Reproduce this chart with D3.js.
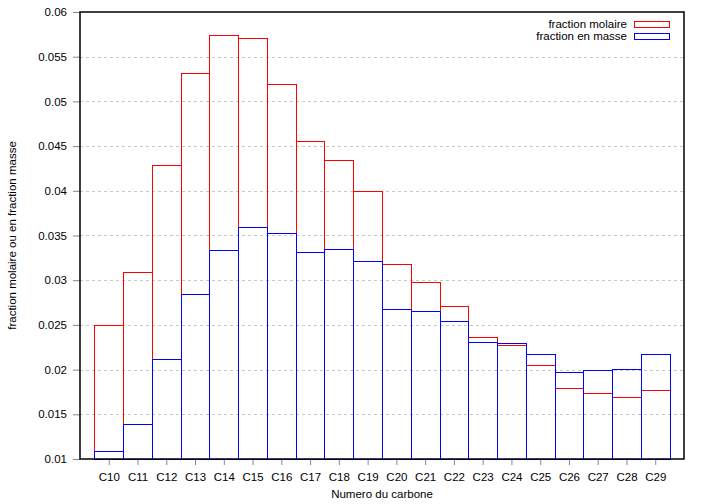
<!DOCTYPE html>
<html><head><meta charset="utf-8">
<script src="https://cdn.jsdelivr.net/npm/d3@7"></script>
<style>body{margin:0;background:#fff}svg{display:block}text{font-family:"Liberation Sans",Arial,sans-serif}</style>
</head><body><svg id="c" width="705" height="504"></svg>
<script>
const categories = ["C10","C11","C12","C13","C14","C15","C16","C17","C18","C19","C20","C21","C22","C23","C24","C25","C26","C27","C28","C29"];
const molaire = [0.0250,0.0309,0.0429,0.0532,0.0574,0.0571,0.0519,0.0456,0.0435,0.0400,0.0318,0.0298,0.0271,0.0236,0.0228,0.0205,0.0179,0.0174,0.0169,0.0177];
const masse = [0.0109,0.0139,0.0212,0.0285,0.0334,0.0360,0.0353,0.0331,0.0335,0.0322,0.0268,0.0266,0.0254,0.0231,0.0230,0.0217,0.0197,0.0200,0.0201,0.0218];
const yTicks = [0.01,0.015,0.02,0.025,0.03,0.035,0.04,0.045,0.05,0.055,0.06];
const seriesNames = ["fraction molaire","fraction en masse"];
const seriesColors = ["#ff0000","#0000ff"];

const svg = d3.select("#c");
const L=80, R=684, T=12, B=459;
const x = d3.scaleLinear().domain([-1,20]).range([L,R]);
const y = d3.scaleLinear().domain([0.01,0.06]).range([B,T]);

// grid
svg.append("g").selectAll("line").data(yTicks.slice(1,-1)).join("line")
  .attr("x1",L).attr("x2",R).attr("y1",d=>Math.round(y(d))+0.5).attr("y2",d=>Math.round(y(d))+0.5)
  .attr("stroke","#c8c8c8").attr("stroke-width",1).attr("stroke-dasharray","3,3");

// bars
[molaire,masse].forEach((vals,si)=>{
  svg.append("g").selectAll("rect").data(vals).join("rect")
    .attr("x",(d,i)=>Math.round(x(i-0.5))+0.5)
    .attr("width",(d,i)=>Math.round(x(i+0.5))-Math.round(x(i-0.5)))
    .attr("y",d=>Math.round(y(d))+0.5)
    .attr("height",d=>B-Math.round(y(d)))
    .attr("fill","none").attr("stroke",seriesColors[si]).attr("stroke-width",1);
});

// axes
const yAxis = d3.axisLeft(y).tickValues(yTicks).tickFormat(d=>+d.toFixed(3)+"").tickSize(7).tickPadding(6);
const gy = svg.append("g").attr("transform",`translate(${L},0)`).call(yAxis);
const xAxis = d3.axisBottom(x).tickValues(d3.range(categories.length)).tickFormat(i=>categories[i]).tickSize(6).tickPadding(8);
const gx = svg.append("g").attr("transform",`translate(0,${B})`).call(xAxis);
[gy,gx].forEach(g=>{
  g.select(".domain").remove();
  g.selectAll(".tick line").attr("stroke","#888");
  g.selectAll("text").attr("font-size",11.5).attr("fill","#000").attr("font-family","'Liberation Sans',Arial,sans-serif");
});

// border
svg.append("rect").attr("x",L).attr("y",T).attr("width",R-L).attr("height",B-T)
  .attr("fill","none").attr("stroke","#000").attr("stroke-width",1.5);

// titles
svg.append("text").attr("x",(L+R)/2).attr("y",498).attr("text-anchor","middle").attr("font-size",11.5).text("Numero du carbone");
svg.append("text").attr("transform",`translate(16,${(T+B)/2}) rotate(-90)`).attr("text-anchor","middle").attr("font-size",11.5).text("fraction molaire ou en fraction masse");

// legend
seriesNames.forEach((n,i)=>{
  const ly = 24.5 + i*12;
  svg.append("text").attr("x",627).attr("y",ly+3.5).attr("text-anchor","end").attr("font-size",11.5).text(n);
  svg.append("rect").attr("x",634.5).attr("y",ly-3).attr("width",35).attr("height",6)
    .attr("fill","none").attr("stroke",seriesColors[i]).attr("stroke-width",1);
});
</script></body></html>
